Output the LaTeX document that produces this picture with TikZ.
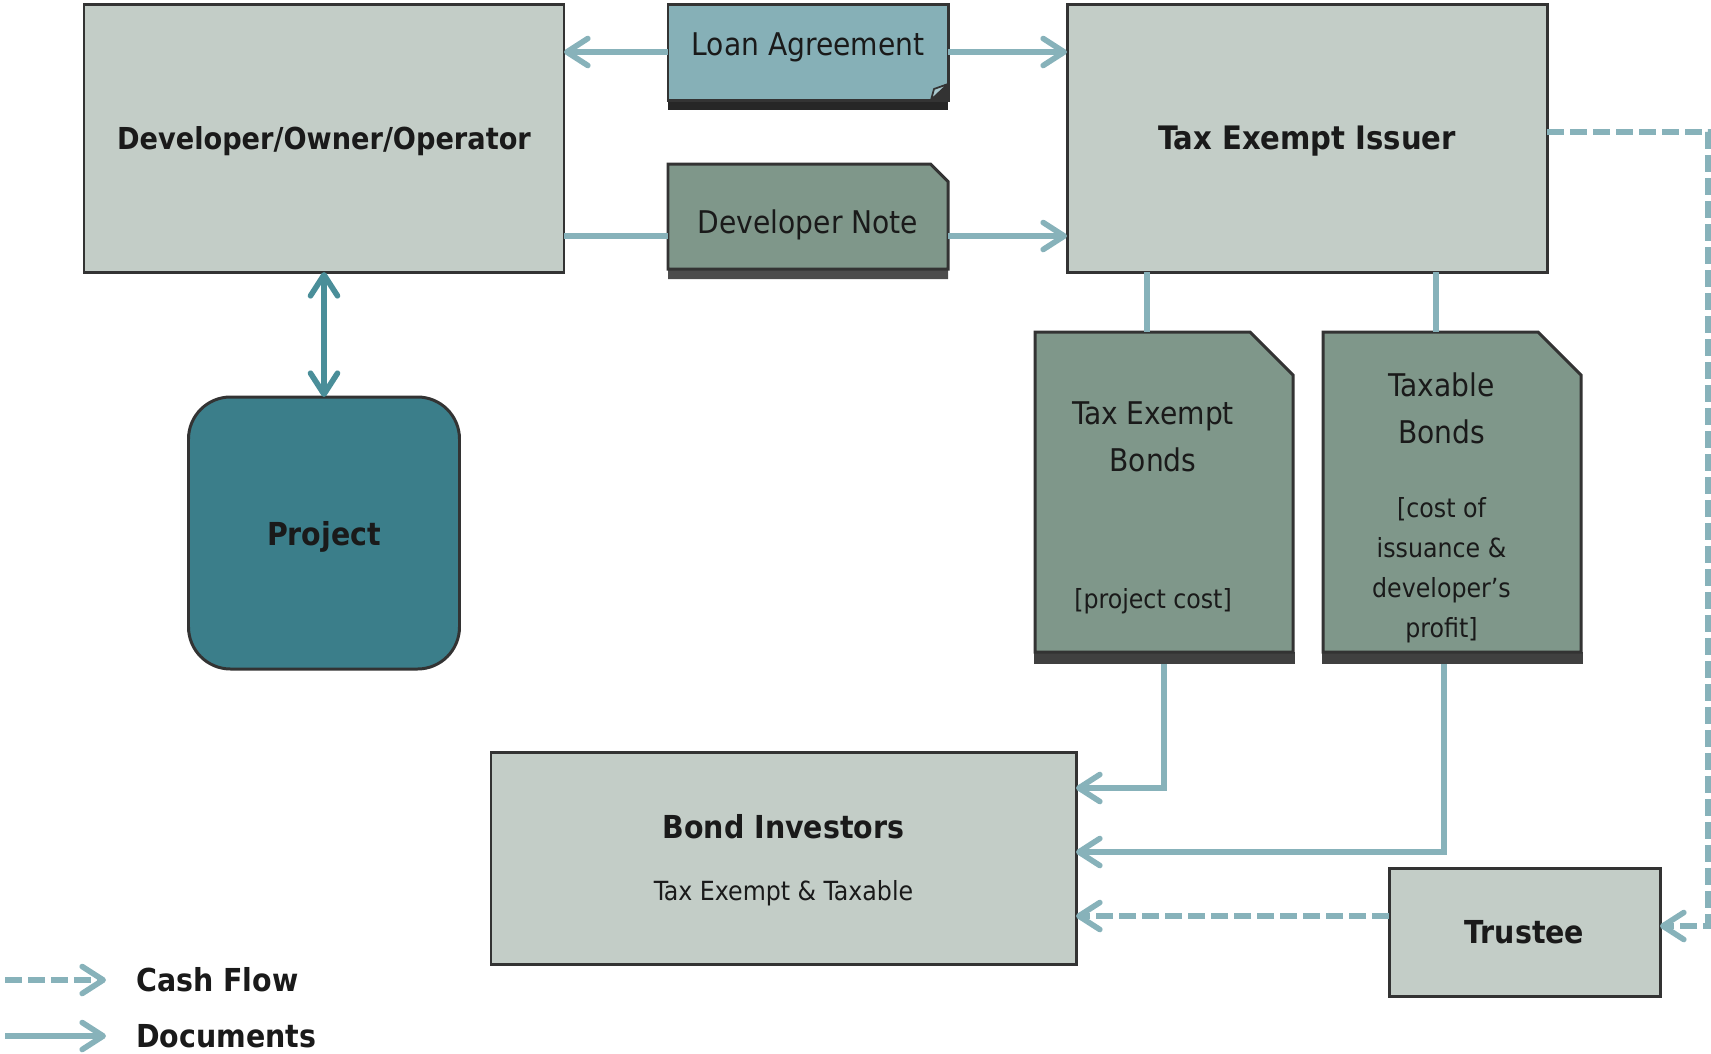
\documentclass[tikz,border=0pt]{standalone}
\usepackage{fontspec}
\setmainfont{DejaVu Sans Condensed}
\usepackage{tikz}
\usetikzlibrary{arrows.meta, positioning, backgrounds, shadows}

\definecolor{boxgray}{HTML}{C3CDC7}
\definecolor{loanblue}{HTML}{86B0B7}
\definecolor{loanfold}{HTML}{A9C8CD}
\definecolor{notegreen}{HTML}{7F978A}
\definecolor{projteal}{HTML}{3B7E8A}
\definecolor{docblue}{HTML}{87B2BA}
\definecolor{darkteal}{HTML}{4A8E99}
\definecolor{edge}{HTML}{333333}
\definecolor{band}{HTML}{404040}
\definecolor{ink}{HTML}{1A1A1A}

\begin{document}
\begin{tikzpicture}[
    box/.style={rectangle, draw=edge, line width=1.7pt, fill=boxgray, minimum width=9.6cm, minimum height=5.36cm, outer sep=0pt, align=center, text=ink, text depth=0pt, font=\fontsize{18}{21.6}\selectfont\bfseries},
    loanbox/.style={rectangle, draw=edge, line width=1.7pt, fill=loanblue, minimum width=5.6cm, minimum height=1.92cm, outer sep=0pt, text=ink, font=\fontsize{17.8}{21}\selectfont, drop shadow={shadow xshift=0cm, shadow yshift=-0.2cm, fill=black, opacity=0.85}},
    notebox/.style={rectangle, minimum width=5.6cm, minimum height=2.1cm, outer sep=0pt, text=ink, font=\fontsize{17.8}{21}\selectfont},
    docbox/.style={rectangle, minimum width=5.16cm, minimum height=6.64cm, outer sep=0pt},
    projbox/.style={rectangle, draw=edge, line width=1.7pt, fill=projteal, minimum width=5.42cm, minimum height=5.44cm, rounded corners=0.84cm, outer sep=0pt, text=ink, text depth=0pt, font=\fontsize{18}{21.6}\selectfont\bfseries},
    boxtitle/.style={inner sep=0pt, text=ink, font=\fontsize{18}{21.6}\selectfont\bfseries},
    txt/.style={inner sep=0pt, text=ink, align=center, font=\fontsize{17.8}{26.7}\selectfont},
    smalltxt/.style={inner sep=0pt, text=ink, align=center, font=\fontsize{15}{22.8}\selectfont},
    legend/.style={inner sep=0pt, anchor=west, text=ink, font=\fontsize{18}{21.6}\selectfont\bfseries},
    shapefill/.style={draw=edge, line width=1.7pt, fill=notegreen, line join=miter},
    docline/.style={draw=docblue, line width=3.2pt},
    docarrow/.style={docline, ->, >={Straight Barb[length=0.42cm, width=0.54cm, round]}},
    cash/.style={docarrow, dash pattern=on 0.34cm off 0.12cm},
    projarrow/.style={draw=darkteal, line width=3.2pt, <->, >={Straight Barb[length=0.42cm, width=0.54cm, round]}}
]
\useasboundingbox (0,0) rectangle (34.22,-21.06);

% Parties
\node[box, font=\fontsize{17.2}{21}\selectfont\bfseries] (dev) at (6.48,-2.76) {Developer/Owner/Operator};
\node[box, font=\fontsize{18.4}{22}\selectfont\bfseries, right=10.06cm of dev] (issuer) {Tax Exempt Issuer};
\node[projbox, below=2.5cm of dev] (project) {Project};

% Loan documents
\node[loanbox, text depth=9.2pt, right=2.08cm of dev.north east, anchor=north west] (loan) {Loan Agreement};
\fill[black!80] ([xshift=-0.34cm]loan.south east) -- (loan.south east) -- ([yshift=0.32cm]loan.south east) -- cycle;
\filldraw[fill=loanfold, draw=edge, line width=1pt, line join=round] ([xshift=-0.34cm]loan.south east) -- ([xshift=-0.28cm, yshift=0.22cm]loan.south east) -- ([yshift=0.32cm]loan.south east) -- cycle;
\node[notebox, text height=19.3pt, text depth=0pt, below=1.28cm of loan] (note) {Developer Note};

% Bonds
\node[docbox, anchor=north west] (teb) at ([xshift=-0.64cm, yshift=-1.2cm]issuer.south west) {};
\node[docbox, right=0.6cm of teb] (taxable) {};
\node[txt] (tebname) at ([xshift=-0.22cm, yshift=-2.09cm]teb.north) {Tax Exempt\\Bonds};
\node[smalltxt] (tebcost) at ([xshift=-0.22cm, yshift=-5.38cm]teb.north) {[project cost]};
\node[txt] (taxname) at ([xshift=-0.21cm, yshift=-1.53cm]taxable.north) {Taxable\\Bonds};
\node[smalltxt] (taxcost) at ([xshift=-0.21cm, yshift=-4.77cm]taxable.north) {[cost of\\issuance \&\\developer's\\profit]};

% Investors and trustee
\node[box, minimum width=11.7cm, minimum height=4.24cm] (bi) at (15.67,-17.16) {};
\node[boxtitle] (bititle) at ([yshift=0.62cm]bi.center) {Bond Investors};
\node[smalltxt] (bisub) at ([yshift=-0.7cm]bi.center) {Tax Exempt \& Taxable};
\node[box, minimum width=5.42cm, minimum height=2.56cm, right=6.26cm of bi, yshift=-1.48cm] (trustee) {Trustee};

% Document shapes
\begin{scope}[on background layer]
\filldraw[shapefill, drop shadow={shadow xshift=0cm, shadow yshift=-0.2cm, fill=black, opacity=0.7}] (note.south west) -- (note.north west) -- ([xshift=-0.35cm]note.north east) -- ([yshift=-0.35cm]note.north east) -- (note.south east) -- cycle;
\foreach \d in {teb, taxable} {
  \fill[band] ([xshift=-0.03cm]\d.south west) rectangle ([xshift=0.03cm, yshift=0.24cm]\d.south east);
  \filldraw[shapefill] ([yshift=0.24cm]\d.south west) -- (\d.north west) -- ([xshift=-0.86cm]\d.north east) -- ([yshift=-0.86cm]\d.north east) -- ([yshift=0.24cm]\d.south east) -- cycle;
}
\end{scope}

% Documents
\draw[docarrow] (loan.west) -- (loan.west -| dev.east);
\draw[docarrow] (loan.east) -- (loan.east -| issuer.west);
\draw[docline] ([yshift=-0.39cm]note.west) -- ([yshift=-0.39cm]note.west -| dev.east);
\draw[docarrow] ([yshift=-0.39cm]note.east) -- ([yshift=-0.39cm]note.east -| issuer.west);
\draw[projarrow] (dev.south) -- (project.north);
\draw[docline] ([xshift=-0.34cm]teb.north) -- ([xshift=-0.34cm]teb.north |- issuer.south);
\draw[docline] ([xshift=-0.32cm]taxable.north) -- ([xshift=-0.32cm]taxable.north |- issuer.south);
\draw[docarrow] (teb.south) |- ([yshift=1.4cm]bi.east);
\draw[docarrow] ([xshift=-0.16cm]taxable.south) |- ([yshift=0.12cm]bi.east);

% Cash flow
\draw[cash] ([yshift=0.12cm]issuer.east) -- ++(3.22,0) |- ([yshift=0.12cm]trustee.east);
\draw[cash] ([yshift=0.32cm]trustee.west) -- ([yshift=0.32cm]trustee.west -| bi.east);

% Legend
\node[legend] (cashkey) at (2.72,-19.6) {Cash Flow};
\node[legend] (dockey) at (2.72,-20.72) {Documents};
\draw[cash] ([xshift=-2.62cm]cashkey.west) -- ([xshift=-0.6cm]cashkey.west);
\draw[docarrow] ([xshift=-2.62cm]dockey.west) -- ([xshift=-0.6cm]dockey.west);

\end{tikzpicture}
\end{document}
